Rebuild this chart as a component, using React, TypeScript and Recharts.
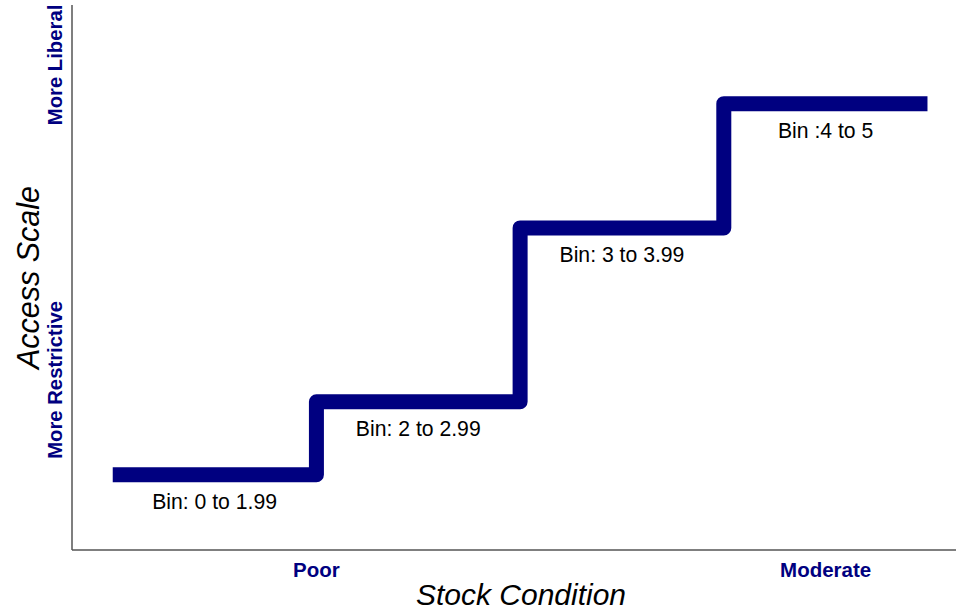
import React from 'react';
import { ComposedChart, Line, XAxis, YAxis, LabelList } from 'recharts';

// step positions along the stock condition axis (equal-width bins)
const stepX = [0, 1, 2, 3, 4];
// access scale level for each step (last value repeats to close the final bin)
const stepLevel = [13.8, 27.2, 59.1, 81.9, 81.9];

const binCenters = [0.5, 1.5, 2.5, 3.5];
const binLevels = [13.8, 27.2, 59.1, 81.9];
const binNames = ['Bin: 0 to 1.99', 'Bin: 2 to 2.99', 'Bin: 3 to 3.99', 'Bin :4 to 5'];

const xTickValues = [1, 3.5];
const xTickLabels = ['Poor', 'Moderate'];
const yTickValues = [31.2, 89];
const yTickLabels = ['More Restrictive', 'More Liberal'];

const NAVY = '#000080';
const FONT = '"Liberation Sans", Arial, sans-serif';

const stepData = stepX.map((x, i) => ({ x, level: stepLevel[i] }));
const binData = binCenters.map((x, i) => ({ x, level: binLevels[i], name: binNames[i] }));

// eslint-disable-next-line @typescript-eslint/no-explicit-any
const XTick = (props: any) => {
    const { x, payload } = props;
    const idx = xTickValues.indexOf(payload.value);
    return (
        <text x={x} y={569} textAnchor="middle" dominantBaseline="central" fill={NAVY} fontWeight="bold" fontSize={20.5} fontFamily={FONT}>
            {xTickLabels[idx]}
        </text>
    );
};

// eslint-disable-next-line @typescript-eslint/no-explicit-any
const YTick = (props: any) => {
    const { y, payload } = props;
    const idx = yTickValues.indexOf(payload.value);
    return (
        <text x={55} y={y} transform={`rotate(-90 55 ${y})`} textAnchor="middle" dominantBaseline="central" fill={NAVY} fontWeight="bold" fontSize={20.3} fontFamily={FONT}>
            {yTickLabels[idx]}
        </text>
    );
};

// eslint-disable-next-line @typescript-eslint/no-explicit-any
const BinLabel = (props: any) => {
    const { x, y, value } = props;
    return (
        <text x={x} y={y + 27} textAnchor="middle" dominantBaseline="central" fill="#000" fontSize={21.2} fontFamily={FONT}>
            {value}
        </text>
    );
};

export default function App() {
    return (
        <div style={{ position: 'absolute', left: 0, top: 0, width: 956, height: 611, background: '#fff' }}>
            <ComposedChart width={956} height={611} margin={{ top: 5, right: 0, bottom: 0, left: 0 }}>
                <XAxis
                    type="number"
                    dataKey="x"
                    domain={[-0.2, 4.14]}
                    ticks={xTickValues}
                    tick={<XTick />}
                    tickLine={false}
                    height={61}
                    stroke="#555"
                    strokeWidth={1.5}
                    allowDataOverflow
                    label={{
                        // eslint-disable-next-line @typescript-eslint/no-explicit-any
                        content: (p: any) => (
                            <text x={p.viewBox.x + p.viewBox.width / 2 + 7} y={594} textAnchor="middle" dominantBaseline="central" fontStyle="italic" fontSize={30} fill="#000" fontFamily={FONT}>
                                Stock Condition
                            </text>
                        ),
                    }}
                />
                <YAxis
                    type="number"
                    domain={[0, 100]}
                    ticks={yTickValues}
                    tick={<YTick />}
                    tickLine={false}
                    width={72}
                    stroke="#555"
                    strokeWidth={1.5}
                    label={{
                        // eslint-disable-next-line @typescript-eslint/no-explicit-any
                        content: (p: any) => {
                            const cy = p.viewBox.y + p.viewBox.height / 2;
                            return (
                                <text x={28} y={cy} transform={`rotate(-90 28 ${cy})`} textAnchor="middle" dominantBaseline="central" fontStyle="italic" fontSize={30.5} fill="#000" fontFamily={FONT}>
                                    Access Scale
                                </text>
                            );
                        },
                    }}
                />
                <Line
                    data={stepData}
                    dataKey="level"
                    type="stepAfter"
                    stroke={NAVY}
                    strokeWidth={15}
                    strokeLinejoin="round"
                    strokeLinecap="butt"
                    dot={false}
                    activeDot={false}
                    isAnimationActive={false}
                />
                <Line
                    data={binData}
                    dataKey="level"
                    stroke="none"
                    dot={false}
                    activeDot={false}
                    isAnimationActive={false}
                >
                    <LabelList dataKey="name" content={<BinLabel />} />
                </Line>
            </ComposedChart>
        </div>
    );
}
